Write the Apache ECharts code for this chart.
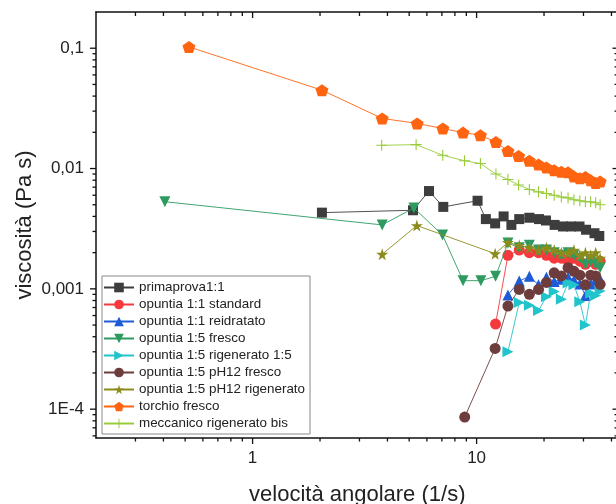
<!DOCTYPE html>
<html><head><meta charset="utf-8">
<script src="https://cdn.jsdelivr.net/npm/echarts@6/dist/echarts.min.js"></script>
<style>html,body{margin:0;padding:0;background:#fff}#c{width:616px;height:504px}</style>
</head><body><div id="c"></div>
<script>
// ---- data ----
const seriesNames = ['primaprova1:1','opuntia 1:1 standard','opuntia 1:1 reidratato','opuntia 1:5 fresco','opuntia 1:5 rigenerato 1:5','opuntia 1:5 pH12 fresco','opuntia 1:5 pH12 rigenerato','torchio fresco','meccanico rigenerato bis'];

const primaprovaX = [2.04, 5.2, 6.13, 7.1, 10.1, 11.0, 12.1, 13.2, 14.3, 15.5, 17.2, 19.0, 20.4, 22.3, 24.3, 26.4, 28.8, 30.8, 33.6, 35.3];
const primaprovaY = [0.0043, 0.0045, 0.0065, 0.0048, 0.0054, 0.0038, 0.0035, 0.0040, 0.0034, 0.0038, 0.0039, 0.0038, 0.0037, 0.0034, 0.0033, 0.0033, 0.0033, 0.0031, 0.0029, 0.00275];

const standardX = [12.15, 13.8, 15.5, 17.2, 18.9, 20.5, 22.2, 23.9, 25.6, 27.2, 28.9, 30.6, 32.3, 34.0, 35.6];
const standardY = [0.00051, 0.0019, 0.0021, 0.0020, 0.0020, 0.0019, 0.0018, 0.0018, 0.0017, 0.0018, 0.0017, 0.0016, 0.0017, 0.0016, 0.0017];

const reidratatoX = [13.8, 15.5, 17.2, 18.9, 20.5, 22.2, 23.9, 25.6, 27.2, 28.9, 30.6, 32.3, 34.0, 35.6];
const reidratatoY = [0.00089, 0.00116, 0.00127, 0.00108, 0.00125, 0.00115, 0.0012, 0.00125, 0.00118, 0.0011, 0.00088, 0.0011, 0.00118, 0.0012];

const frescoX = [0.406, 3.79, 5.25, 7.05, 8.7, 10.45, 12.15, 13.8, 15.5, 17.2, 18.9, 20.5, 22.2, 23.9, 25.6, 27.2, 28.9, 30.6, 32.3, 34.0, 35.6];
const frescoY = [0.0053, 0.0034, 0.0047, 0.0028, 0.00117, 0.00117, 0.00127, 0.0024, 0.0022, 0.0023, 0.0021, 0.0021, 0.0020, 0.0019, 0.0020, 0.0019, 0.0018, 0.0016, 0.0017, 0.0016, 0.0015];

const rigeneratoX = [13.8, 15.5, 17.2, 18.9, 20.5, 22.2, 23.9, 25.6, 27.2, 28.9, 30.6, 32.3, 34.0, 35.6];
const rigeneratoY = [0.0003, 0.00077, 0.00073, 0.00066, 0.00086, 0.00095, 0.00082, 0.00112, 0.00108, 0.00078, 0.0005, 0.00092, 0.00088, 0.00096];

const ph12FrescoX = [8.85, 12.1, 13.8, 15.5, 17.2, 18.9, 20.5, 22.2, 23.9, 25.6, 27.2, 28.9, 30.6, 32.3, 34.0, 35.6];
const ph12FrescoY = [0.000086, 0.00032, 0.00072, 0.00099, 0.0009, 0.00099, 0.00113, 0.00136, 0.00128, 0.0015, 0.0014, 0.0013, 0.00108, 0.0013, 0.00128, 0.00109];

const ph12RigX = [3.79, 5.41, 12.1, 13.8, 15.5, 17.2, 18.9, 20.5, 22.2, 23.9, 25.6, 27.2, 28.9, 30.6, 32.3, 34.0, 35.6];
const ph12RigY = [0.00194, 0.00336, 0.00196, 0.00243, 0.0023, 0.0022, 0.0021, 0.0022, 0.0021, 0.0020, 0.0020, 0.0021, 0.0019, 0.0020, 0.0019, 0.0020, 0.0018];

const torchioX = [0.52, 2.04, 3.79, 5.43, 7.07, 8.7, 10.4, 12.2, 13.8, 15.4, 17.2, 18.9, 20.5, 22.2, 23.9, 25.6, 27.2, 28.9, 30.6, 32.3, 34.0, 35.6];
const torchioY = [0.1026, 0.0448, 0.0261, 0.0237, 0.0215, 0.0199, 0.0189, 0.0166, 0.0140, 0.0127, 0.0116, 0.0108, 0.0102, 0.0097, 0.0094, 0.0093, 0.0086, 0.0083, 0.0085, 0.0080, 0.0076, 0.0078];

const meccanicoX = [3.77, 5.37, 7.06, 8.83, 10.4, 12.2, 13.8, 15.4, 17.2, 18.9, 20.5, 22.2, 23.9, 25.6, 27.2, 28.9, 30.6, 32.3, 34.0, 35.6];
const meccanicoY = [0.0156, 0.0158, 0.0129, 0.0116, 0.0110, 0.0090, 0.0081, 0.0073, 0.0067, 0.0064, 0.0062, 0.0060, 0.0058, 0.0057, 0.0055, 0.0054, 0.0053, 0.0053, 0.0052, 0.0050];

const xTickValues = [1, 10];
const xTickLabels = ['1', '10'];
const xMinorTickValues = [0.3,0.4,0.5,0.6,0.7,0.8,0.9,2,3,4,5,6,7,8,9,20,30,40];
const yTickValues = [0.1, 0.01, 0.001, 0.0001];
const yTickLabels = ['0,1', '0,01', '0,001', '1E-4'];
const yMinorTickValues = [6e-5,7e-5,8e-5,9e-5,2e-4,3e-4,4e-4,5e-4,6e-4,7e-4,8e-4,9e-4,2e-3,3e-3,4e-3,5e-3,6e-3,7e-3,8e-3,9e-3,0.02,0.03,0.04,0.05,0.06,0.07,0.08,0.09];
const xAxisTitle = 'velocità angolare (1/s)';
const yAxisTitle = 'viscosità (Pa s)';

// ---- styling ----
const FONT = 'Liberation Sans, Arial, sans-serif';
const colors = ['#3d3d3d','#f5393c','#1f5bd6','#2f9a60','#22c4cc','#6d3c3c','#8c8c1c','#ff6410','#98cc3a'];
const symbols = [
  'rect','circle','triangle',
  'path://M0,0 L100,0 L50,87 Z',
  'path://M0,0 L87,50 L0,100 Z',
  'circle',
  'path://M50,0 L61,35 L98,35 L68,57 L79,91 L50,70 L21,91 L32,57 L2,35 L39,35 Z',
  'path://M50,0 L100,38 L81,100 L19,100 L0,38 Z',
  'path://M45,0 H55 V45 H100 V55 H55 V100 H45 V55 H0 V45 H45 Z'
];
const sizes = [10, 11, 11, 11, 11, 11, 12, 13, 11];
const xs = [primaprovaX, standardX, reidratatoX, frescoX, rigeneratoX, ph12FrescoX, ph12RigX, torchioX, meccanicoX];
const ys = [primaprovaY, standardY, reidratatoY, frescoY, rigeneratoY, ph12FrescoY, ph12RigY, torchioY, meccanicoY];

function pick(vals, labels, v) {
  let best = 0, bd = Infinity;
  vals.forEach((t, i) => { const d = Math.abs(Math.log10(t) - Math.log10(v)); if (d < bd) { bd = d; best = i; } });
  return bd < 0.01 ? labels[best] : '';
}

const XMIN = 0.2, XMAX = 43, YMIN = 5.76e-5, YMAX = 0.2;
const axisLine = { show: true, lineStyle: { color: '#111', width: 1.5 } };
function xAx(pos, opts) {
  return Object.assign({ type: 'log', position: pos, min: XMIN, max: XMAX, splitLine: { show: false },
    axisLine: { show: false }, axisLabel: { show: false }, axisTick: { show: false } }, opts);
}
function yAx(pos, opts) {
  return Object.assign({ type: 'log', position: pos, min: YMIN, max: YMAX, splitLine: { show: false },
    axisLine: { show: false }, axisLabel: { show: false }, axisTick: { show: false } }, opts);
}

// tick marks drawn through the axes' own scales (api.coord)
function tickSeries(values, side, len) {
  const isX = side === 'bottom' || side === 'top';
  return {
    type: 'custom', xAxisIndex: 0, yAxisIndex: 0, silent: true, clip: false, z: 20,
    data: values.map(v => isX ? [v, side === 'bottom' ? YMIN : YMAX] : [side === 'left' ? XMIN : XMAX, v]),
    renderItem: (params, api) => {
      const p = api.coord([api.value(0), api.value(1)]);
      let x2 = p[0], y2 = p[1];
      if (isX) y2 += len; else x2 -= len;
      return { type: 'line', shape: { x1: p[0], y1: p[1], x2, y2 }, style: { stroke: '#111', lineWidth: 1.3 } };
    }
  };
}

const series = seriesNames.map((name, i) => ({
  name, type: 'line', xAxisIndex: 0, yAxisIndex: 0,
  data: xs[i].map((x, k) => [x, ys[i][k]]),
  symbol: symbols[i], symbolSize: i === 7 ? [13, 12] : sizes[i],
  showAllSymbol: true,
  itemStyle: { color: colors[i] },
  lineStyle: { color: colors[i], width: 0.9 },
  emphasis: { disabled: true },
  z: 2 + i
})).concat([
  tickSeries(xTickValues, 'bottom', 6),
  tickSeries(xMinorTickValues, 'bottom', 3.5),
  tickSeries(xTickValues, 'top', 6),
  tickSeries(xMinorTickValues, 'top', 4),
  tickSeries(yTickValues, 'left', 6),
  tickSeries(yMinorTickValues, 'left', 3.5),
  tickSeries(yTickValues, 'right', 6),
  tickSeries(yMinorTickValues, 'right', 4)
]);

const option = {
  animation: false,
  backgroundColor: '#fff',
  grid: { left: 96, top: 12, right: -2.5, bottom: 66, containLabel: false, outerBoundsMode: 'none' },
  xAxis: [
    xAx('bottom', {
      axisLine, name: xAxisTitle, nameLocation: 'middle', nameGap: 46, nameMoveOverlap: false,
      nameTextStyle: { fontFamily: FONT, fontSize: 22, color: '#222' },
      axisLabel: { show: true, customValues: xTickValues, margin: 12, fontFamily: FONT, fontSize: 17, color: '#222',
        formatter: v => pick(xTickValues, xTickLabels, v) }
    }),
    xAx('top', { axisLine })
  ],
  yAxis: [
    yAx('left', {
      axisLine, name: yAxisTitle, nameLocation: 'middle', nameGap: 60, nameRotate: 90, nameMoveOverlap: false,
      nameTextStyle: { fontFamily: FONT, fontSize: 22, color: '#222' },
      axisLabel: { show: true, customValues: yTickValues, margin: 12, fontFamily: FONT, fontSize: 17, color: '#222',
        formatter: v => pick(yTickValues, yTickLabels, v) }
    }),
    yAx('right', { axisLine })
  ],
  legend: {
    data: seriesNames, orient: 'vertical', left: 102, top: 276,
    padding: [5, 5, 4, 1], itemGap: 4, itemWidth: 30, itemHeight: 12,
    backgroundColor: '#fff', borderColor: '#8a8a8a', borderWidth: 1, borderRadius: 0,
    textStyle: { fontFamily: FONT, fontSize: 13.4, color: '#222', lineHeight: 12 },
    selectedMode: false
  },
  series
};
const chart = echarts.init(document.getElementById('c'), null, { renderer: 'canvas' });
chart.setOption(option);
</script>
</body></html>
